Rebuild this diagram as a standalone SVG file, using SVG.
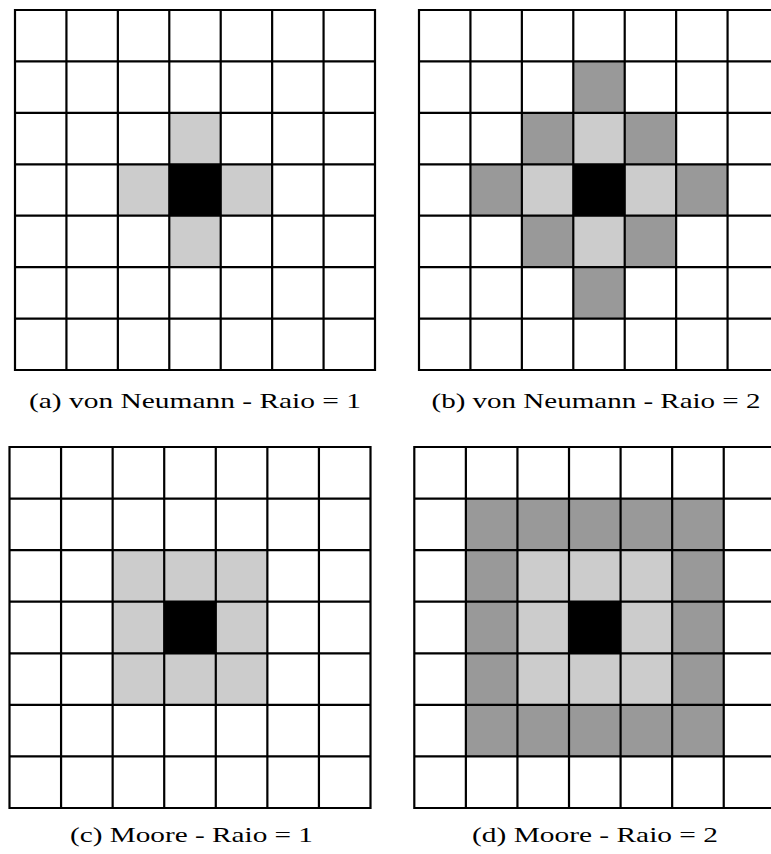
<svg xmlns="http://www.w3.org/2000/svg" width="771" height="854" viewBox="0 0 771 854">
<style>
.grid{fill:none;stroke:#000;stroke-width:2.2;stroke-linecap:square}
.lt{fill:#cccccc}
.dk{fill:#999999}
.bk{fill:#000}
.cap{font-family:"Liberation Serif","Times New Roman",serif;font-size:22px;fill:#000;text-anchor:middle}
</style>
<rect width="771" height="854" fill="#fff"/>
<g id="panel-a">
<rect class="lt" x="169.29" y="112.86" width="51.43" height="51.43"/>
<rect class="lt" x="117.86" y="164.29" width="51.43" height="51.43"/>
<rect class="lt" x="220.71" y="164.29" width="51.43" height="51.43"/>
<rect class="lt" x="169.29" y="215.71" width="51.43" height="51.43"/>
<rect class="bk" x="169.29" y="164.29" width="51.43" height="51.43"/>
<path class="grid" d="M15 10V370M66.43 10V370M117.86 10V370M169.29 10V370M220.71 10V370M272.14 10V370M323.57 10V370M375 10V370M15 10H375M15 61.43H375M15 112.86H375M15 164.29H375M15 215.71H375M15 267.14H375M15 318.57H375M15 370H375"/>
<text class="cap" x="195" y="408" textLength="332" lengthAdjust="spacingAndGlyphs">(a) von Neumann - Raio = 1</text>
</g>
<g id="panel-b">
<rect class="dk" x="573.29" y="61.43" width="51.43" height="51.43"/>
<rect class="dk" x="521.86" y="112.86" width="51.43" height="51.43"/>
<rect class="dk" x="624.71" y="112.86" width="51.43" height="51.43"/>
<rect class="dk" x="470.43" y="164.29" width="51.43" height="51.43"/>
<rect class="dk" x="676.14" y="164.29" width="51.43" height="51.43"/>
<rect class="dk" x="521.86" y="215.71" width="51.43" height="51.43"/>
<rect class="dk" x="624.71" y="215.71" width="51.43" height="51.43"/>
<rect class="dk" x="573.29" y="267.14" width="51.43" height="51.43"/>
<rect class="lt" x="573.29" y="112.86" width="51.43" height="51.43"/>
<rect class="lt" x="521.86" y="164.29" width="51.43" height="51.43"/>
<rect class="lt" x="624.71" y="164.29" width="51.43" height="51.43"/>
<rect class="lt" x="573.29" y="215.71" width="51.43" height="51.43"/>
<rect class="bk" x="573.29" y="164.29" width="51.43" height="51.43"/>
<path class="grid" d="M419 10V370M470.43 10V370M521.86 10V370M573.29 10V370M624.71 10V370M676.14 10V370M727.57 10V370M779 10V370M419 10H779M419 61.43H779M419 112.86H779M419 164.29H779M419 215.71H779M419 267.14H779M419 318.57H779M419 370H779"/>
<text class="cap" x="596" y="408" textLength="329" lengthAdjust="spacingAndGlyphs">(b) von Neumann - Raio = 2</text>
</g>
<g id="panel-c">
<rect class="lt" x="112.64" y="550.14" width="154.71" height="154.71"/>
<rect class="bk" x="164.21" y="601.71" width="51.57" height="51.57"/>
<path class="grid" d="M9.5 447V808M61.07 447V808M112.64 447V808M164.21 447V808M215.79 447V808M267.36 447V808M318.93 447V808M370.5 447V808M9.5 447H370.5M9.5 498.57H370.5M9.5 550.14H370.5M9.5 601.71H370.5M9.5 653.29H370.5M9.5 704.86H370.5M9.5 756.43H370.5M9.5 808H370.5"/>
<text class="cap" x="191.5" y="842" textLength="243" lengthAdjust="spacingAndGlyphs">(c) Moore - Raio = 1</text>
</g>
<g id="panel-d">
<rect class="dk" x="465.87" y="498.57" width="257.86" height="257.86"/>
<rect class="lt" x="517.44" y="550.14" width="154.71" height="154.71"/>
<rect class="bk" x="569.01" y="601.71" width="51.57" height="51.57"/>
<path class="grid" d="M414.3 447V808M465.87 447V808M517.44 447V808M569.01 447V808M620.59 447V808M672.16 447V808M723.73 447V808M775.3 447V808M414.3 447H775.3M414.3 498.57H775.3M414.3 550.14H775.3M414.3 601.71H775.3M414.3 653.29H775.3M414.3 704.86H775.3M414.3 756.43H775.3M414.3 808H775.3"/>
<text class="cap" x="595" y="842" textLength="246" lengthAdjust="spacingAndGlyphs">(d) Moore - Raio = 2</text>
</g>
</svg>
